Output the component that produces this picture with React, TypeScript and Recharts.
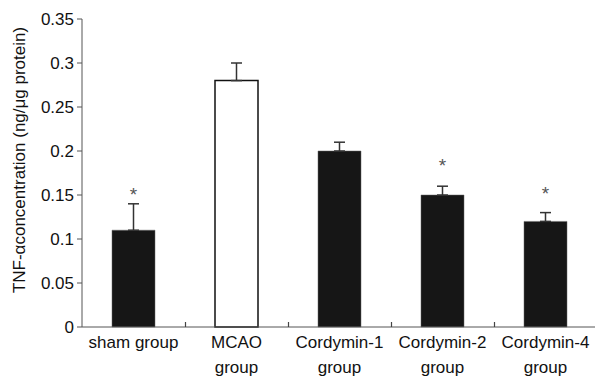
import React from 'react';
import { ComposedChart, Bar, XAxis, YAxis, ErrorBar, Line, Cell } from 'recharts';

const categories = ['sham', 'MCAO', 'Cordymin-1', 'Cordymin-2', 'Cordymin-4'];
const tickLines = [
  ['sham group'],
  ['MCAO', 'group'],
  ['Cordymin-1', 'group'],
  ['Cordymin-2', 'group'],
  ['Cordymin-4', 'group'],
];
const means = [0.11, 0.28, 0.2, 0.15, 0.12];
const sems = [0.03, 0.02, 0.01, 0.01, 0.01];
const starLevels: (number | null)[] = [0.156, null, null, 0.189, 0.157];
const hollow = [false, true, false, false, false];
const yTicks = [0, 0.05, 0.1, 0.15, 0.2, 0.25, 0.3, 0.35];
const yLabel = 'TNF-\u03B1concentration (ng/\u03BCg protein)';

const data = categories.map((c, i) => ({
  name: c,
  mean: means[i],
  err: [0, sems[i]],
  star: starLevels[i],
  base: 0,
}));

const FONT = '"Liberation Sans", Arial, Helvetica, sans-serif';
const CHART_W = 595;
const CHART_H = 379;
const MARGIN = { top: 19, right: -2, left: 0, bottom: 0 };
const YAXIS_W = 82;
const PLOT_W = CHART_W - MARGIN.left - MARGIN.right - YAXIS_W;
const HALF_BAND = PLOT_W / categories.length / 2;

function XTick(props: any) {
  const x = Number(props.x);
  const y = Number(props.y);
  const idx = Number(props.index);
  const lines = tickLines[idx] || [];
  return (
    <g>
      {lines.map((t: string, k: number) => (
        <text key={k} x={x} y={y + 21 + k * 25} textAnchor="middle" fontSize={17} fontFamily={FONT} fill="#111">
          {t}
        </text>
      ))}
    </g>
  );
}

const StarDot = (props: any) => {
  const { cx, cy, value, index } = props;
  if (value == null || cy == null) return <g key={`s${index}`} />;
  return (
    <text key={`s${index}`} x={cx} y={cy + 11} textAnchor="middle" fontSize={19} fontFamily={FONT} fill="#555">
      *
    </text>
  );
};

const BoundaryTick = (props: any) => {
  const { cx, cy, index } = props;
  if (cx == null || cy == null || index >= categories.length - 1) return <g key={`b${index}`} />;
  const bx = Math.round(cx + HALF_BAND) + 0.5;
  return (
    <line
      key={`b${index}`}
      x1={bx}
      x2={bx}
      y1={cy}
      y2={cy - 5}
      stroke="#444"
      strokeWidth={1.2}
      style={{ stroke: '#444' }}
    />
  );
};

export default function App() {
  return (
    <div style={{ position: 'absolute', left: 0, top: 0 }}>
      <ComposedChart width={CHART_W} height={CHART_H} data={data} margin={MARGIN} barCategoryGap={0}>
        <XAxis
          dataKey="name"
          type="category"
          height={52}
          tickLine={false}
          tickSize={0}
          tickMargin={0}
          axisLine={{ stroke: '#555', strokeWidth: 1 }}
          tick={(p: any) => <XTick {...p} />}
          interval={0}
        />
        <YAxis
          type="number"
          domain={[0, 0.35]}
          ticks={yTicks}
          width={YAXIS_W}
          tickSize={5}
          tickMargin={3}
          axisLine={{ stroke: '#555', strokeWidth: 1 }}
          tickLine={{ stroke: '#555', strokeWidth: 1 }}
          tick={{ fontSize: 17, fontFamily: FONT, fill: '#111' }}
          tickFormatter={(v: number) => String(v)}
          label={{
            content: () => (
              <text
                x={19}
                y={160}
                transform="rotate(-90 19 160)"
                textAnchor="middle"
                dominantBaseline="central"
                fontSize={17}
                fontFamily={FONT}
                fill="#111"
              >
                {yLabel}
              </text>
            ),
          }}
        />
        <Bar dataKey="mean" barSize={43} isAnimationActive={false}>
          {data.map((d, i) => (
            <Cell
              key={i}
              fill={hollow[i] ? '#ffffff' : '#161616'}
              stroke={hollow[i] ? '#111' : '#666'}
              strokeWidth={hollow[i] ? 1.5 : 0.5}
            />
          ))}
          <ErrorBar dataKey="err" width={5.5} stroke="#333" strokeWidth={1.5} direction="y" />
        </Bar>
        <Line
          dataKey="base"
          stroke="none"
          isAnimationActive={false}
          dot={<BoundaryTick />}
          activeDot={false}
          legendType="none"
        />
        <Line
          dataKey="star"
          stroke="none"
          isAnimationActive={false}
          dot={<StarDot />}
          activeDot={false}
          legendType="none"
        />
      </ComposedChart>
    </div>
  );
}
